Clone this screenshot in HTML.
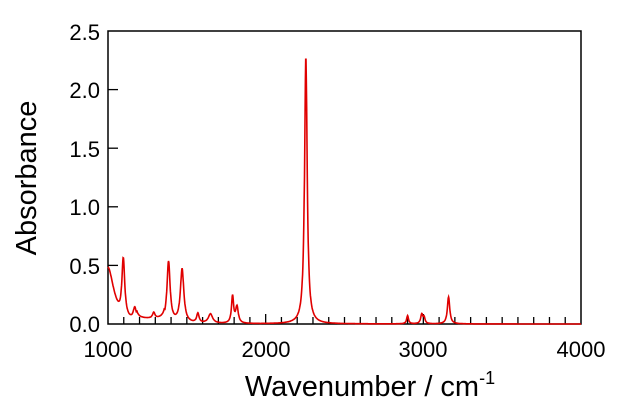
<!DOCTYPE html>
<html><head><meta charset="utf-8"><style>
body{margin:0;background:#fff}
svg text{font-family:"Liberation Sans",Arial,sans-serif;fill:#000}
</style></head><body>
<svg id="s" width="640" height="407" viewBox="0 0 640 407" xmlns="http://www.w3.org/2000/svg">
<rect x="108" y="31" width="473" height="293" fill="none" stroke="#000" stroke-width="1.5"/>
<g id="ticks" stroke="#000" stroke-width="1.3"></g>
<path id="p" fill="none" stroke="#e00000" stroke-width="1.6"/>
<g font-size="22" text-anchor="end">
<text x="100" y="332">0.0</text><text x="100" y="274">0.5</text><text x="100" y="215">1.0</text>
<text x="100" y="157">1.5</text><text x="100" y="98">2.0</text><text x="100" y="40">2.5</text>
</g>
<g font-size="22" text-anchor="middle">
<text x="108" y="357">1000</text><text x="266" y="357">2000</text><text x="423" y="357">3000</text><text x="581" y="357">4000</text>
</g>
<text x="370" y="396" font-size="29" text-anchor="middle">Wavenumber / cm<tspan font-size="18" dy="-12">-1</tspan></text>
<text transform="translate(36,178) rotate(-90)" font-size="29" text-anchor="middle">Absorbance</text>
</svg>
<script>
var X=function(w){return 108+(w-1000)*473/3000},Y=function(a){return 324-a*117.2};
var t="";
for(var w=1100;w<4000;w+=100){var L=(w%1000==0)?10:7;t+='<line x1="'+X(w)+'" y1="324" x2="'+X(w)+'" y2="'+(324-L)+'"/>';}
for(var a=0.5;a<2.5;a+=0.5){t+='<line x1="108" y1="'+Y(a)+'" x2="118" y2="'+Y(a)+'"/>';}
document.getElementById("ticks").innerHTML=t;
var P=[[1000,0.36,45],[1097,0.5,11],[1170,0.11,12],[1290,0.05,9],[1384,0.52,12],[1470,0.46,13],[1570,0.08,9],[1650,0.08,16],[1790,0.23,8],[1818,0.14,10],[2255,2.28,10],[2900,0.07,7],[2990,0.08,8],[3005,0.05,7],[3160,0.23,9]];
var d="";
for(var w=1000;w<=4000;w+=2){var a=0;if(w>1180&&w<1360)a+=0.03;
for(var i=0;i<P.length;i++){var g=(w-P[i][0])/P[i][2];a+=P[i][1]/(1+g*g);}
if(w<1080)a+=0.12*(1080-w)/80;
d+=(w==1000?"M":"L")+X(w).toFixed(1)+","+Y(a).toFixed(1);}
document.getElementById("p").setAttribute("d",d);
</script>
</body></html>
